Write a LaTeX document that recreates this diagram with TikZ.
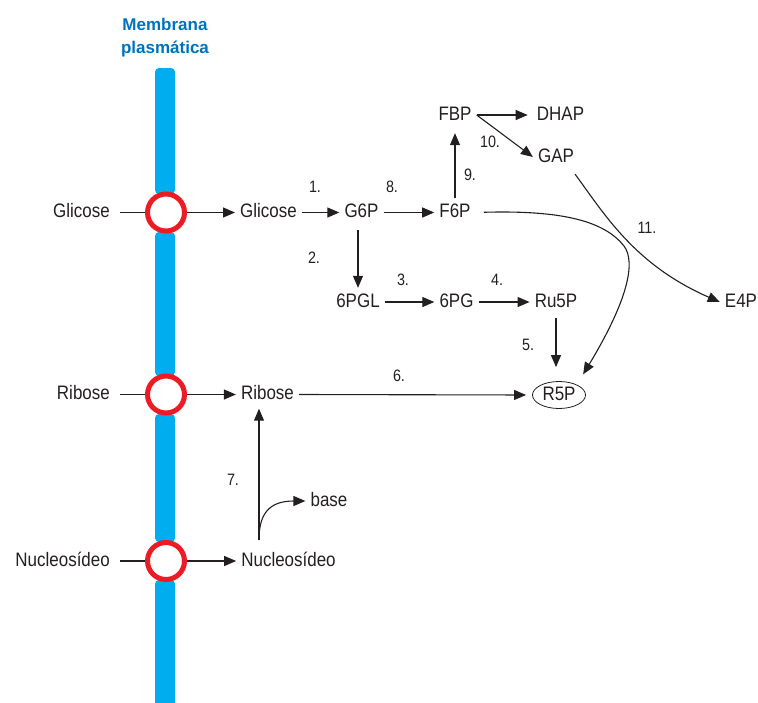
\documentclass[tikz,border=0pt]{standalone}
\usepackage{fontspec}
\setmainfont{Liberation Sans}
\newfontfamily\labelfont[FakeStretch=0.87]{Liberation Sans}
\usetikzlibrary{arrows.meta,shapes.geometric}
\definecolor{barblue}{RGB}{0,174,239}
\definecolor{ringred}{RGB}{237,28,36}
\definecolor{headblue}{RGB}{0,114,188}
\definecolor{ink}{RGB}{35,31,32}
\begin{document}
\begin{tikzpicture}[x=1pt,y=-1pt,
  lbl/.style={font=\labelfont\fontsize{19.5}{22}\selectfont, text=ink, inner xsep=5pt, inner ysep=5pt, text height=14pt, text depth=4pt},
  outer/.style={lbl, inner xsep=10pt, anchor=east},
  num/.style={font=\labelfont\fontsize{16.5}{19}\selectfont, text=ink, inner sep=0pt},
  pore/.style={circle, draw=ringred, line width=5pt, fill=white, minimum size=37pt, inner sep=0pt},
  conn/.style={draw=ink, line width=1.1pt},
  arr/.style={conn, -{Triangle[length=12pt,width=10pt]}},
  seg/.style={fill=barblue, rounded corners=4pt},
  head/.style={font=\fontsize{17}{20}\selectfont\bfseries, text=headblue, anchor=base, inner sep=0pt}]
\useasboundingbox (0,0) rectangle (758,702);

% membrane title
\node[head] (hd1) at (165,30) {Membrana};
\node[head] (hd2) at (165,53) {plasmática};

% plasma membrane, broken by the three transporters
\fill[seg] (155,68) rectangle (175,194);
\fill[seg] (155,232) rectangle (175,376);
\fill[seg] (155,414) rectangle (175,542);
\fill[seg] (155,580) rectangle (175,712);

\node[pore] (m1) at (166,212.5) {};
\node[pore] (m2) at (166,394.5) {};
\node[pore] (m3) at (166,561) {};

% metabolites
\node[outer] (glcOut) at (120,212.5) {Glicose};
\node[lbl] (glcIn) at (268.5,212.5) {Glicose};
\node[lbl] (G6P) at (361.5,212.5) {G6P};
\node[lbl] (F6P) at (455,212.5) {F6P};
\node[lbl] (FBP) at (455,115) {FBP};
\node[lbl] (DHAP) at (560.5,115) {DHAP};
\node[lbl] (GAP) at (556,157) {GAP};
\node[lbl] (E4P) at (741,302) {E4P};
\node[lbl] (PGL) at (358,302) {6PGL};
\node[lbl] (PG) at (456.5,302) {6PG};
\node[lbl] (Ru5P) at (556,302) {Ru5P};
\node[lbl, ellipse, draw=ink, line width=0.8pt, minimum width=53pt, minimum height=27pt, inner sep=0pt] (R5P) at (559,395) {R5P};
\node[outer] (ribOut) at (120,394.5) {Ribose};
\node[lbl] (ribIn) at (267.5,394.5) {Ribose};
\node[outer] (nucOut) at (120,561) {Nucleosídeo};
\node[lbl] (nucIn) at (288.5,561) {Nucleosídeo};
\node[lbl] (base) at (329,501) {base};

% transport across the membrane
\draw[conn] (glcOut.east) -- (m1.west);
\draw[arr] (m1.east) -- (glcIn.west);
\draw[conn] (ribOut.east) -- (m2.west);
\draw[arr] (m2.east) -- (ribIn.west);
\draw[conn] (nucOut.east) -- (m3.west);
\draw[arr] (m3.east) -- (nucIn.west);

% reactions
\draw[arr] (glcIn.east) -- (G6P.west);
\draw[arr] (G6P.east) -- (F6P.west);
\draw[arr, shorten >=4pt] (F6P.north) -- (FBP.south);
\draw[arr, shorten >=4pt] (FBP.east) -- (DHAP.west);
\draw[arr] (FBP.east) -- (GAP.west);
\draw[arr, shorten <=3pt] (PGL.north |- G6P.south) -- (PGL.north);
\draw[arr] (PGL.east) -- (PG.west);
\draw[arr] (PG.east) -- (Ru5P.west);
\draw[arr, shorten <=2pt, shorten >=14pt] (Ru5P.south) -- (Ru5P.south |- R5P.north);
\draw[arr, shorten >=6pt] (ribIn.east) -- (R5P.west);
\draw[arr] ([xshift=-4pt,yshift=-3pt]GAP.south east) .. controls (605,215) and (635,265) .. (E4P.west);
\draw[arr, shorten <=8pt, shorten >=12pt] (F6P.east) .. controls (565,210) and (605,222) .. (624,246)
  .. controls (636,262) and (628,300) .. (R5P.30);
\coordinate (c7) at (259,540);
\draw[arr] (c7) -- (c7 |- ribIn.south);
\draw[arr] (c7) .. controls (259,515) and (268,501) .. (base.west);

% reaction numbers
\node[num] (n1) at (315,187) {1.};
\node[num] (n2) at (314,258) {2.};
\node[num] (n3) at (403,280) {3.};
\node[num] (n4) at (497,280) {4.};
\node[num] (n5) at (528,345) {5.};
\node[num] (n6) at (399,376) {6.};
\node[num] (n7) at (233,480) {7.};
\node[num] (n8) at (392,187) {8.};
\node[num] (n9) at (470,175) {9.};
\node[num] (n10) at (490,142) {10.};
\node[num] (n11) at (647,228) {11.};
\end{tikzpicture}
\end{document}
